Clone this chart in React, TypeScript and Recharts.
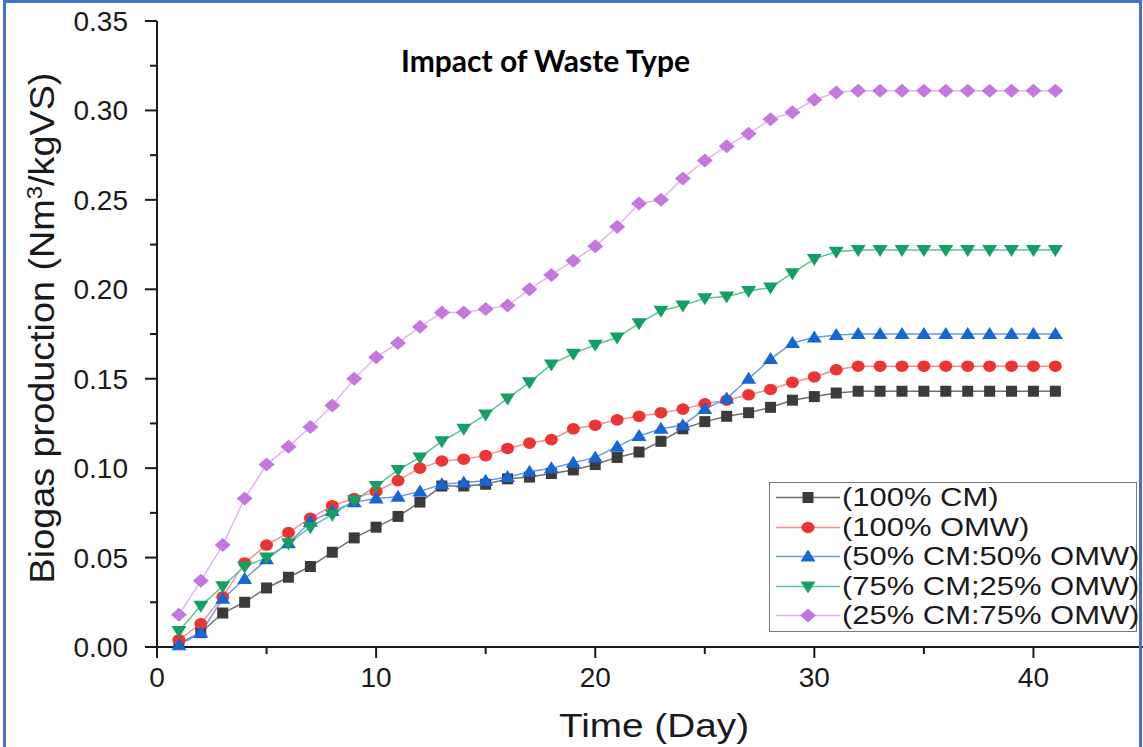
import { LineChart, Line, XAxis, YAxis, Label } from "recharts";

const days = [
  1, 2, 3, 4, 5, 6, 7, 8, 9, 10, 11, 12, 13, 14, 15, 16, 17, 18, 19, 20, 21,
  22, 23, 24, 25, 26, 27, 28, 29, 30, 31, 32, 33, 34, 35, 36, 37, 38, 39, 40, 41,
];

// 100% CM
const cm100 = [
  0.002, 0.008, 0.019, 0.025, 0.033, 0.039, 0.045, 0.053, 0.061, 0.067, 0.073,
  0.081, 0.09, 0.09, 0.091, 0.094, 0.095, 0.097, 0.099, 0.102, 0.106, 0.109,
  0.115, 0.122, 0.126, 0.129, 0.131, 0.134, 0.138, 0.14, 0.142, 0.143, 0.143,
  0.143, 0.143, 0.143, 0.143, 0.143, 0.143, 0.143, 0.143,
];

// 100% OMW
const omw100 = [
  0.004, 0.013, 0.028, 0.047, 0.057, 0.064, 0.072, 0.079, 0.083, 0.087, 0.093,
  0.1, 0.104, 0.105, 0.107, 0.111, 0.114, 0.116, 0.122, 0.124, 0.127, 0.129,
  0.131, 0.133, 0.136, 0.138, 0.141, 0.144, 0.148, 0.151, 0.155, 0.157, 0.157,
  0.157, 0.157, 0.157, 0.157, 0.157, 0.157, 0.157, 0.157,
];

// 50% CM : 50% OMW
const mix5050 = [
  0.001, 0.008, 0.027, 0.038, 0.049, 0.058, 0.07, 0.076, 0.081, 0.083, 0.084,
  0.087, 0.091, 0.092, 0.093, 0.095, 0.098, 0.1, 0.103, 0.106, 0.112, 0.118,
  0.122, 0.124, 0.133, 0.139, 0.15, 0.161, 0.17, 0.173, 0.1745, 0.175, 0.175,
  0.175, 0.175, 0.175, 0.175, 0.175, 0.175, 0.175, 0.175,
];

// 75% CM ; 25% OMW
const mix7525 = [
  0.009, 0.023, 0.034, 0.045, 0.05, 0.058, 0.067, 0.074, 0.082, 0.09, 0.099,
  0.106, 0.115, 0.122, 0.13, 0.139, 0.148, 0.158, 0.164, 0.169, 0.173, 0.181,
  0.188, 0.191, 0.195, 0.196, 0.199, 0.201, 0.209, 0.217, 0.221, 0.222, 0.222,
  0.222, 0.222, 0.222, 0.222, 0.222, 0.222, 0.222, 0.222,
];

// 25% CM : 75% OMW
const mix2575 = [
  0.018, 0.037, 0.057, 0.083, 0.102, 0.112, 0.123, 0.135, 0.15, 0.162, 0.17,
  0.179, 0.187, 0.187, 0.189, 0.191, 0.2, 0.208, 0.216, 0.224, 0.235, 0.248,
  0.25, 0.262, 0.272, 0.28, 0.287, 0.295, 0.299, 0.306, 0.31, 0.311, 0.311,
  0.311, 0.311, 0.311, 0.311, 0.311, 0.311, 0.311, 0.311,
];

const seriesNames = [
  "(100% CM)",
  "(100% OMW)",
  "(50% CM:50% OMW)",
  "(75% CM;25% OMW)",
  "(25% CM:75% OMW)",
];

const xTicks = [0, 5, 10, 15, 20, 25, 30, 35, 40];
const yTicks = [
  0, 0.025, 0.05, 0.075, 0.1, 0.125, 0.15, 0.175, 0.2, 0.225, 0.25, 0.275, 0.3,
  0.325, 0.35,
];

const W = 1143;
const H = 747;
const FONT = "'Liberation Sans', Arial, sans-serif";
const INK = "#1a1a1a";

type Shape = "square" | "circle" | "up" | "down" | "diamond";

const series: { key: string; shape: Shape; fill: string; stroke: string }[] = [
  { key: "cm100", shape: "square", fill: "#3b3b3b", stroke: "#707070" },
  { key: "omw100", shape: "circle", fill: "#ec3434", stroke: "#f29090" },
  { key: "mix5050", shape: "up", fill: "#1666d4", stroke: "#6a9ae4" },
  { key: "mix7525", shape: "down", fill: "#14a064", stroke: "#5cc495" },
  { key: "mix2575", shape: "diamond", fill: "#c677de", stroke: "#e0b6ec" },
];

const data = days.map((d, i) => ({
  day: d,
  cm100: cm100[i],
  omw100: omw100[i],
  mix5050: mix5050[i],
  mix7525: mix7525[i],
  mix2575: mix2575[i],
}));

function Marker({ shape, cx, cy, fill }: { shape: Shape; cx: number; cy: number; fill: string }) {
  if (shape === "square")
    return <rect x={cx - 5.5} y={cy - 5.5} width={11} height={11} fill={fill} />;
  if (shape === "circle") return <ellipse cx={cx} cy={cy} rx={6.5} ry={5.8} fill={fill} />;
  if (shape === "up")
    return <polygon points={`${cx},${cy - 7} ${cx + 7.5},${cy + 5} ${cx - 7.5},${cy + 5}`} fill={fill} />;
  if (shape === "down")
    return <polygon points={`${cx - 7.5},${cy - 5} ${cx + 7.5},${cy - 5} ${cx},${cy + 7}`} fill={fill} />;
  return <polygon points={`${cx},${cy - 7} ${cx + 8},${cy} ${cx},${cy + 7} ${cx - 8},${cy}`} fill={fill} />;
}

const YTick = (props: any) => {
  const { x, y, payload } = props;
  const v = payload.value as number;
  const major = Math.round(v * 1000) % 50 === 0;
  return (
    <g>
      <line x1={x} x2={x - (major ? 12 : 7)} y1={y} y2={y} stroke={INK} strokeWidth={2} />
      {major && (
        <text x={x - 29} y={y + 10} textAnchor="end" fontFamily={FONT} fontSize={28} fill={INK}>
          {v.toFixed(2)}
        </text>
      )}
    </g>
  );
};

const XTick = (props: any) => {
  const { x, y, payload } = props;
  const v = payload.value as number;
  const major = v % 10 === 0;
  return (
    <g>
      <line x1={x} x2={x} y1={y} y2={y + (major ? 11 : 7)} stroke={INK} strokeWidth={2} />
      {major && (
        <text x={x} y={y + 40} textAnchor="middle" fontFamily={FONT} fontSize={28} fill={INK}>
          {v}
        </text>
      )}
    </g>
  );
};

export default function App() {
  return (
    <div style={{ position: "absolute", left: 0, top: 0, width: W, height: H, background: "#fff" }}>
      <LineChart width={W} height={H} data={data} margin={{ top: 21, right: 0, bottom: 0, left: 0 }}>
        <XAxis
          dataKey="day"
          type="number"
          domain={[0, 45]}
          ticks={xTicks}
          interval={0}
          height={100}
          tickSize={0}
          tickMargin={0}
          tick={<XTick />}
          axisLine={{ stroke: INK, strokeWidth: 2 }}
        >
          <Label
            content={() => (
              <text
                transform="translate(654,737) scale(1.14,1)"
                textAnchor="middle"
                fontFamily={FONT}
                fontSize={34}
                fill={INK}
              >
                Time (Day)
              </text>
            )}
          />
        </XAxis>
        <YAxis
          type="number"
          domain={[0, 0.35]}
          ticks={yTicks}
          interval={0}
          width={157}
          tickSize={0}
          tickMargin={0}
          tick={<YTick />}
          axisLine={{ stroke: INK, strokeWidth: 2 }}
        >
          <Label
            content={() => (
              <text
                transform="translate(54,328) rotate(-90) scale(1.08,1)"
                textAnchor="middle"
                fontFamily={FONT}
                fontSize={35}
                fill={INK}
              >
                Biogas production (Nm
                <tspan dy={-12} fontSize={22}>3</tspan>
                <tspan dy={12}>/kgVS)</tspan>
              </text>
            )}
          />
        </YAxis>
        {series.map((s) => (
          <Line
            key={s.key}
            dataKey={s.key}
            type="linear"
            stroke={s.stroke}
            strokeWidth={1.5}
            isAnimationActive={false}
            activeDot={false}
            dot={(p: any) => (
              <Marker key={`${s.key}-${p.index}`} shape={s.shape} cx={p.cx} cy={p.cy} fill={s.fill} />
            )}
          />
        ))}
      </LineChart>

      <div
        style={{
          position: "absolute",
          left: 401,
          top: 42,
          fontFamily: "Lato, 'Open Sans', sans-serif",
          fontWeight: 700,
          fontSize: 30,
          color: "#000",
          whiteSpace: "nowrap",
        }}
      >
        Impact of Waste Type
      </div>

      <div
        style={{
          position: "absolute",
          left: 769,
          top: 482,
          width: 368,
          height: 150,
          boxSizing: "border-box",
          border: "1px solid #7a7a7a",
          background: "#fff",
        }}
      >
        {series.map((s, i) => (
          <div
            key={s.key}
            style={{ position: "absolute", left: 0, top: 0 + i * 29.5, height: 29, width: 366 }}
          >
            <svg width={70} height={29} style={{ position: "absolute", left: 4, top: 0 }}>
              <line x1={2} x2={66} y1={14.5} y2={14.5} stroke={s.stroke} strokeWidth={1.5} />
              <Marker shape={s.shape} cx={34} cy={14.5} fill={s.fill} />
            </svg>
            <span
              style={{
                position: "absolute",
                left: 72,
                top: 0,
                lineHeight: "29px",
                fontFamily: FONT,
                fontSize: 26,
                color: INK,
                whiteSpace: "nowrap",
                transform: "scaleX(1.19)",
                transformOrigin: "left center",
              }}
            >
              {seriesNames[i]}
            </span>
          </div>
        ))}
      </div>

      <div
        style={{
          position: "absolute",
          left: 3,
          top: 0,
          width: 1139,
          height: H,
          boxSizing: "border-box",
          borderTop: "3px solid #4472c4",
          borderLeft: "3px solid #4472c4",
          borderRight: "3px solid #4472c4",
          pointerEvents: "none",
        }}
      />
    </div>
  );
}
